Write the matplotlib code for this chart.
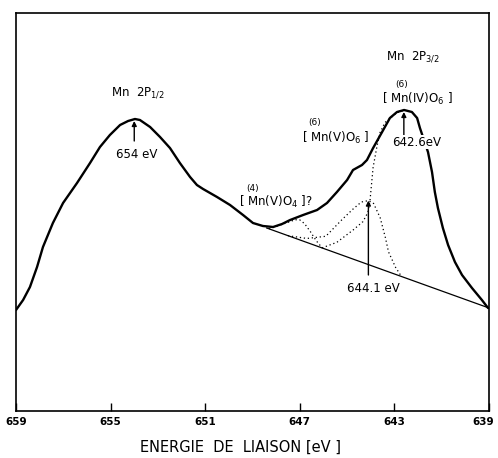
import numpy as np
import matplotlib
matplotlib.use("Agg")
import matplotlib.pyplot as plt
from matplotlib.transforms import ScaledTranslation

# Mn 2p photoelectron spectrum (binding energy in eV, intensity in arbitrary units)
energy = [659.00, 658.70, 658.41, 658.11, 657.86, 657.44, 657.01, 656.42, 655.87,
          655.45, 655.03, 654.60, 654.26, 653.97, 653.76, 653.33, 652.91, 652.49,
          652.07, 651.64, 651.35, 651.09, 650.50, 649.95, 649.40, 648.98, 648.56,
          648.13, 647.75, 647.41, 646.86, 646.27, 645.85, 645.43, 645.00, 644.75,
          644.37, 644.16, 643.90, 643.52, 643.19, 642.89, 642.59, 642.26, 642.04,
          641.92, 641.75, 641.58, 641.41, 641.29, 641.16, 640.95, 640.73, 640.44,
          640.14, 639.72, 639.30, 639.04]
intensity = [101, 111, 124, 144, 164, 188, 208, 228, 248,
             264, 276, 286, 290, 292, 291, 284, 274, 263,
             248, 234, 226, 222, 214, 206, 196, 188, 185,
             184, 187, 191, 196, 201, 208, 219, 231, 241,
             246, 251, 263, 279, 293, 299, 301, 299, 293,
             283, 271, 259, 239, 219, 203, 183, 166, 149,
             136, 123, 111, 103]

# linear background under the 2p3/2 line
base_x = [639.0, 648.4]
base_y = [103, 183]

# fitted components: peak position, offsets from it, height above background
comp_a_center = 647.0   # [Mn(V)O4]
comp_a_dx = [1.3, 1.0, 0.7, 0.4, 0.2, 0.0, -0.2, -0.45, -0.7, -0.95]
comp_a_h = [0, 5, 10, 15, 18.5, 20, 18, 12, 5, 0]

comp_b_center = 644.1   # [Mn(V)O6]
comp_b_dx = [3.4, 2.6, 1.8, 1.1, 0.65, 0.3, 0.0, -0.22, -0.5, -0.72, -0.85, -1.15, -1.4]
comp_b_h = [0, 4, 13, 36, 50, 60, 64, 63, 51, 33, 20, 7, 0]

comp_c_center = 642.6   # [Mn(IV)O6]
comp_c_dx = [3.46, 2.83, 2.15, 1.73, 1.52, 1.43, 1.35, 1.3, 1.14, 1.01, 0.8, 0.59, 0.3, 0.0]
comp_c_h = [0, 11, 29, 41, 52, 65, 86, 99, 121, 136, 148, 154, 162, 167]

tick_values = [659, 655, 651, 647, 643, 639]

fig = plt.figure(figsize=(4.98, 4.58), dpi=100)
ax = fig.add_axes([16 / 498, 47 / 458, 473 / 498, 398 / 458])

ax.plot(energy, intensity, color="black", lw=1.7, solid_joinstyle="round",
        solid_capstyle="round", zorder=3)
ax.plot(base_x, base_y, color="black", lw=0.9, zorder=2)

for center, dx, h in [(comp_a_center, comp_a_dx, comp_a_h),
                      (comp_b_center, comp_b_dx, comp_b_h),
                      (comp_c_center, comp_c_dx, comp_c_h)]:
    cx = center + np.array(dx)
    cy = np.interp(cx, base_x, base_y) + np.array(h)
    ax.plot(cx, cy, color="black", lw=0.9, ls=(0, (1, 2.2)), zorder=2)

arrow = dict(arrowstyle="-|>", color="black", lw=1.0, mutation_scale=7,
             shrinkA=0, shrinkB=0)
txt = dict(ha="center", va="center", fontsize=8.5, color="black")
small = dict(ha="center", va="center", fontsize=6.5, color="black")

# Mn 2p1/2
ax.text(653.84, 318, "Mn  2P$_{1/2}$", **txt)
ax.annotate("", xy=(654.0, 290), xytext=(654.0, 270), arrowprops=arrow)
ax.text(653.9, 257, "654 eV", **txt)

# Mn 2p3/2 and its components
ax.text(642.2, 354, "Mn  2P$_{3/2}$", **txt)
ax.text(642.68, 327, "(6)", **small)
ax.text(642.04, 312, "[ Mn(IV)O$_6$ ]", **txt)
ax.annotate("", xy=(642.6, 299), xytext=(642.6, 272), arrowprops=arrow)
ax.text(642.04, 269, "642.6eV", bbox=dict(fc="white", ec="none", pad=0.6),
        zorder=4, **txt)

ax.text(646.36, 288, "(6)", **small)
ax.text(645.47, 273, "[ Mn(V)O$_6$ ]", **txt)

ax.text(648.98, 223, "(4)", **small)
ax.text(648.0, 209, "[ Mn(V)O$_4$ ]?", **txt)

b_top = np.interp(comp_b_center, base_x, base_y) + max(comp_b_h)
ax.annotate("", xy=(comp_b_center, b_top), xytext=(comp_b_center, 136),
            arrowprops=arrow)
ax.text(comp_b_center - 0.2, 123, "644.1 eV", **txt)

ax.set_xlim(659, 639)
ax.set_ylim(0, 398)
ax.set_xticks(tick_values)
ax.set_xticklabels([str(v) for v in tick_values], fontsize=7.5, fontweight="bold")
ax.tick_params(axis="x", direction="in", length=6, width=1.0, pad=4)
ax.set_yticks([])
for s in ax.spines.values():
    s.set_linewidth(1.2)

# keep the last tick label inside the figure
last = ax.get_xticklabels()[-1]
last.set_horizontalalignment("right")
last.set_transform(last.get_transform() + ScaledTranslation(5 / 100, 0, fig.dpi_scale_trans))

fig.text(240 / 498, 1 - 447 / 458, "ENERGIE  DE  LIAISON [eV ]", ha="center",
         va="center", fontsize=10.5)

fig.savefig("out.png", dpi=100)
